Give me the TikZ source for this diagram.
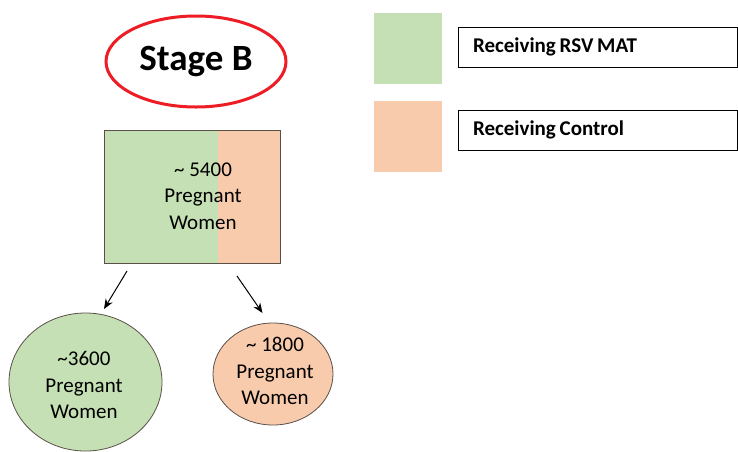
\documentclass[tikz,border=0pt]{standalone}
\usepackage{fontspec}
\setmainfont{Carlito}
\usetikzlibrary{arrows.meta,calc,shapes.geometric}
\definecolor{matgreen}{HTML}{C5E0B4}
\definecolor{ctlpeach}{HTML}{F8CBAD}
\definecolor{edgegray}{HTML}{5A5048}
\definecolor{stagered}{HTML}{EE1C24}
\newcommand\tightwords{\spaceskip=0.18em\relax}
\tikzset{
  bodytext/.style={font=\fontsize{21}{26.5}\selectfont, align=center, inner sep=0pt},
  group/.style={ellipse, draw=edgegray, line width=0.8pt},
  legendswatch/.style={minimum width=68pt, minimum height=71pt, inner sep=0pt},
  legendlabel/.style={draw=black, line width=0.8pt, minimum width=279pt, minimum height=40pt,
    inner sep=0pt, text width=249pt, align=left,
    font=\bfseries\fontsize{21}{24}\selectfont},
  splitarrow/.style={line width=1pt, -{Stealth[length=10pt,width=8pt]}}
}
\begin{document}
\begin{tikzpicture}[x=1pt,y=-1pt]
\useasboundingbox (0,0) rectangle (738,451);
\fill[white] (0,0) rectangle (738,451);

% stage title
\node[ellipse, draw=stagered, line width=3pt, minimum width=180pt, minimum height=91pt,
  font=\bfseries\fontsize{37}{40}\selectfont] (stage) at (196,61.5) {Stage B};

% whole population, split by arm
\node[draw=edgegray, line width=0.8pt, minimum width=176pt, minimum height=133pt, inner sep=0pt,
  path picture={
    \fill[matgreen] (path picture bounding box.south west) rectangle (path picture bounding box.north east);
    \fill[ctlpeach] ($(path picture bounding box.south west)+(113.5,0)$) rectangle (path picture bounding box.north east);
  }] (pop) at (192,196.5) {};
\node[bodytext] (poptext) at (203,196) {\textasciitilde\ 5400\\Pregnant\\Women};

% arms
\node[group, fill=matgreen, minimum width=153pt, minimum height=138pt] (mat) at (85.5,382) {};
\node[bodytext] (mattext) at (84,385) {\textasciitilde3600\\Pregnant\\Women};
\node[group, fill=ctlpeach, minimum width=120pt, minimum height=102pt] (ctl) at (273,374) {};
\node[bodytext] (ctltext) at (275,371) {\textasciitilde\ 1800\\Pregnant\\Women};

\coordinate (matfrom) at (127,271);
\coordinate (matto) at (104,309);
\coordinate (ctlfrom) at (237,276);
\coordinate (ctlto) at (262.5,313);
\draw[splitarrow] (matfrom) -- (matto);
\draw[splitarrow] (ctlfrom) -- (ctlto);

% legend
\node[legendswatch, fill=matgreen] (keymat) at (408,48.5) {};
\node[legendswatch, fill=ctlpeach] (keyctl) at (408,136) {};
\node[legendlabel] (labmat) at (597.5,47) {\tightwords Receiving RSV MAT};
\node[legendlabel] (labctl) at (597.5,130) {\tightwords Receiving Control};
\end{tikzpicture}
\end{document}
